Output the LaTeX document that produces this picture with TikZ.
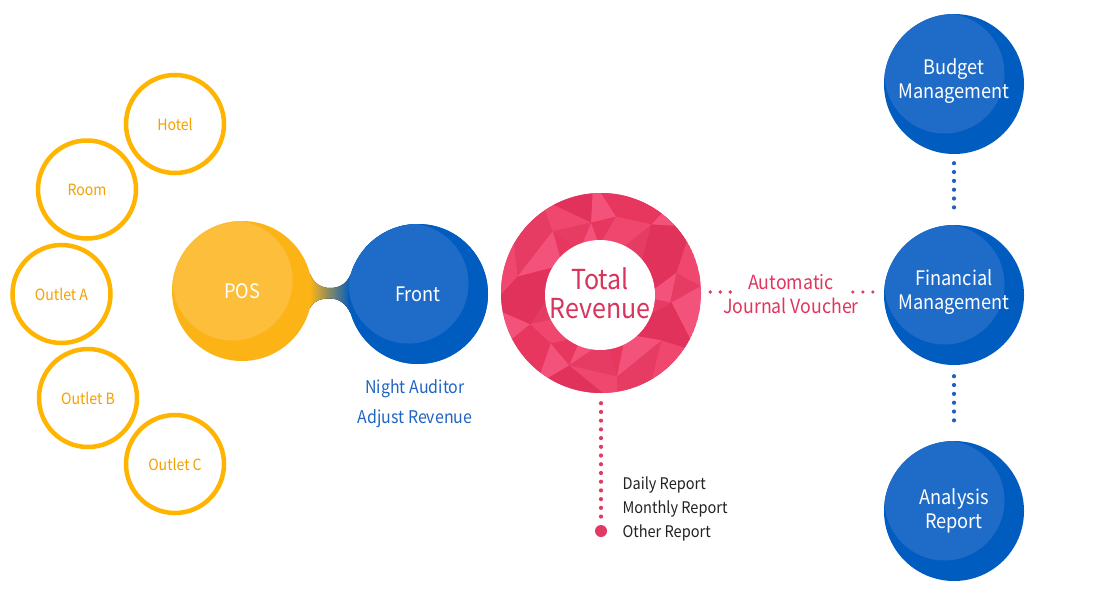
\documentclass[tikz,border=0pt]{standalone}
\usepackage{fontspec}
\setmainfont[FakeStretch=0.91]{Noto Sans CJK KR}
\definecolor{oline}{HTML}{FFB400}
\definecolor{otext}{HTML}{F5A000}
\definecolor{posdark}{HTML}{FCB316}
\definecolor{poslight}{HTML}{FDBF3B}
\definecolor{bluedark}{HTML}{005CBF}
\definecolor{bluelight}{HTML}{1F6CC8}
\definecolor{bluedot}{HTML}{2060C0}
\definecolor{pinkdot}{HTML}{E23A62}
\definecolor{pinktext}{HTML}{D8345C}
\definecolor{pinklabel}{HTML}{E0355E}
\definecolor{reptext}{HTML}{222222}
\definecolor{nighttext}{HTML}{2064C4}
\definecolor{pbase}{HTML}{EC4068}
\definecolor{p0}{HTML}{E8375F}
\definecolor{p1}{HTML}{F0476F}
\definecolor{p2}{HTML}{E0325A}
\definecolor{p3}{HTML}{F3527A}
\definecolor{p4}{HTML}{E63C64}
\tikzset{
  outl/.style={circle, draw=oline, line width=4.5pt, minimum size=98pt, inner sep=0pt,
    text=otext, font=\fontsize{15.5}{18}\selectfont},
  twotone/.style n args={2}{circle, minimum size=140pt, inner sep=0pt, fill=#1,
    path picture={\fill[#2] ([xshift=-9.5pt,yshift=10.5pt]path picture bounding box.center) circle (60pt);}},
  bluec/.style={twotone={bluedark}{bluelight}},
  posc/.style={twotone={posdark}{poslight}},
  ctext/.style={text=white, align=center, font=\fontsize{20}{24}\selectfont},
  pinkdots/.style={draw=pinkdot, line width=4.2pt, line cap=round, dash pattern=on 0pt off 8.72pt},
  pinkdotsm/.style={draw=pinkdot, line width=3.6pt, line cap=round, dash pattern=on 0pt off 10pt},
  bluedots/.style={draw=bluedot, line width=4.2pt, line cap=round, dash pattern=on 0pt off 8.83pt},
}
\begin{document}
\begin{tikzpicture}[x=1pt,y=-1pt]
\useasboundingbox (0,0) rectangle (1100,600);
\fill[white] (0,0) rectangle (1100,600);

% outline circles
\node[outl] (hotel) at (175,124) {Hotel};
\node[outl] (room) at (87,189.5) {Room};
\node[outl] (outa) at (61.5,294) {Outlet A};
\node[outl] (outb) at (88,398) {Outlet B};
\node[outl] (outc) at (175,464) {Outlet C};

% POS and Front
\node[posc] (pos) at (242,291) {};
\node[bluec] (front) at (418,294) {};
\fill[left color=posdark, right color=bluedark]
  (pos.14) .. controls (314,284) and (322,288) .. (330,288)
  .. controls (338,288) and (346,285) .. (front.164)
  -- (front.196) .. controls (346,303) and (338,298.5) .. (330,298.5)
  .. controls (322,298.5) and (314,300) .. (pos.346) -- cycle;
\node[posc, minimum size=138pt] at (pos) {};
\node[bluec] at (front) {};
\node[ctext] (postext) at (pos) {POS};
\node[ctext] (fronttext) at (front) {Front};

\node[text=nighttext, align=center, font=\fontsize{17.5}{30}\selectfont] (night) at (415,404) {Night Auditor\\Adjust Revenue};

% Total revenue ring
\begin{scope}
  \clip (601,293) circle (100pt);
  \fill[pbase] (601,293) circle (100pt);
  \foreach \i in {0,...,11}{
    \pgfmathsetmacro{\ao}{\i*30+8*sin(\i*130)}
    \pgfmathsetmacro{\aon}{(\i+1)*30+8*sin((\i+1)*130)}
    \pgfmathsetmacro{\am}{\i*30+15+9*sin(\i*77)}
    \pgfmathsetmacro{\amp}{(\i-1)*30+15+9*sin((\i-1)*77)}
    \pgfmathsetmacro{\ai}{\i*30+6*sin(\i*53)}
    \pgfmathsetmacro{\ain}{(\i+1)*30+6*sin((\i+1)*53)}
    \pgfmathsetmacro{\rm}{78+7*sin(\i*91)}
    \pgfmathsetmacro{\rmp}{78+7*sin((\i-1)*91)}
    \pgfmathtruncatemacro{\ca}{mod(\i*7+1,5)}
    \pgfmathtruncatemacro{\cb}{mod(\i*3+4,5)}
    \pgfmathtruncatemacro{\cc}{mod(\i*2+2,5)}
    \pgfmathtruncatemacro{\cd}{mod(\i*9+3,5)}
    \fill[p\ca] ([shift={(601pt,-293pt)}]\ao:112pt) -- ([shift={(601pt,-293pt)}]\aon:112pt) -- ([shift={(601pt,-293pt)}]\am:\rm pt) -- cycle;
    \fill[p\cb] ([shift={(601pt,-293pt)}]\ao:112pt) -- ([shift={(601pt,-293pt)}]\amp:\rmp pt) -- ([shift={(601pt,-293pt)}]\am:\rm pt) -- cycle;
    \fill[p\cc] ([shift={(601pt,-293pt)}]\ai:48pt) -- ([shift={(601pt,-293pt)}]\ain:48pt) -- ([shift={(601pt,-293pt)}]\am:\rm pt) -- cycle;
    \fill[p\cd] ([shift={(601pt,-293pt)}]\ai:48pt) -- ([shift={(601pt,-293pt)}]\amp:\rmp pt) -- ([shift={(601pt,-293pt)}]\am:\rm pt) -- cycle;
  }
\end{scope}
\node[circle, minimum size=200pt, inner sep=0pt] (ring) at (601,293) {};
\node[circle, fill=white, minimum size=110pt, inner sep=0pt] (hole) at (600,295) {};
\node[text=pinktext, align=center, font=\fontsize{27.5}{29.5}\selectfont] (total) at (600,293) {Total\\Revenue};

% reports
\node[circle, fill=pinkdot, minimum size=12pt, inner sep=0pt] (bigdot) at (601,531) {};
\draw[pinkdots] ([yshift=-10pt]ring.south) -- ([yshift=14pt]bigdot.center);
\node[anchor=west, align=left, text=reptext, font=\fontsize{16}{24}\selectfont] (reports) at (619,509) {Daily Report\\Monthly Report\\Other Report};

% right column
\node[bluec] (budget) at (954,84) {};
\node[bluec] (fin) at (954,295) {};
\node[bluec] (anal) at (954,511) {};
\node[ctext] (budgettext) at (954,81) {Budget\\Management};
\node[ctext] (fintext) at (954,292) {Financial\\Management};
\node[ctext] (analtext) at (954,511) {Analysis\\Report};
\draw[bluedots] ([yshift=-9pt]budget.south) -- ([yshift=9pt]fin.north);
\draw[bluedots] ([yshift=-11pt]fin.south) -- ([yshift=12pt]anal.north);

% automatic journal voucher
\node[text=pinklabel, align=center, font=\fontsize{19.5}{24}\selectfont] (ajv) at (791,294) {Automatic\\Journal Voucher};
\draw[pinkdotsm] ([xshift=9pt,yshift=1pt]ring.east) -- ([xshift=29.7pt,yshift=1pt]ring.east);
\draw[pinkdotsm] ([xshift=-31pt,yshift=3pt]fin.west) -- ([xshift=-10.3pt,yshift=3pt]fin.west);
\end{tikzpicture}
\end{document}
